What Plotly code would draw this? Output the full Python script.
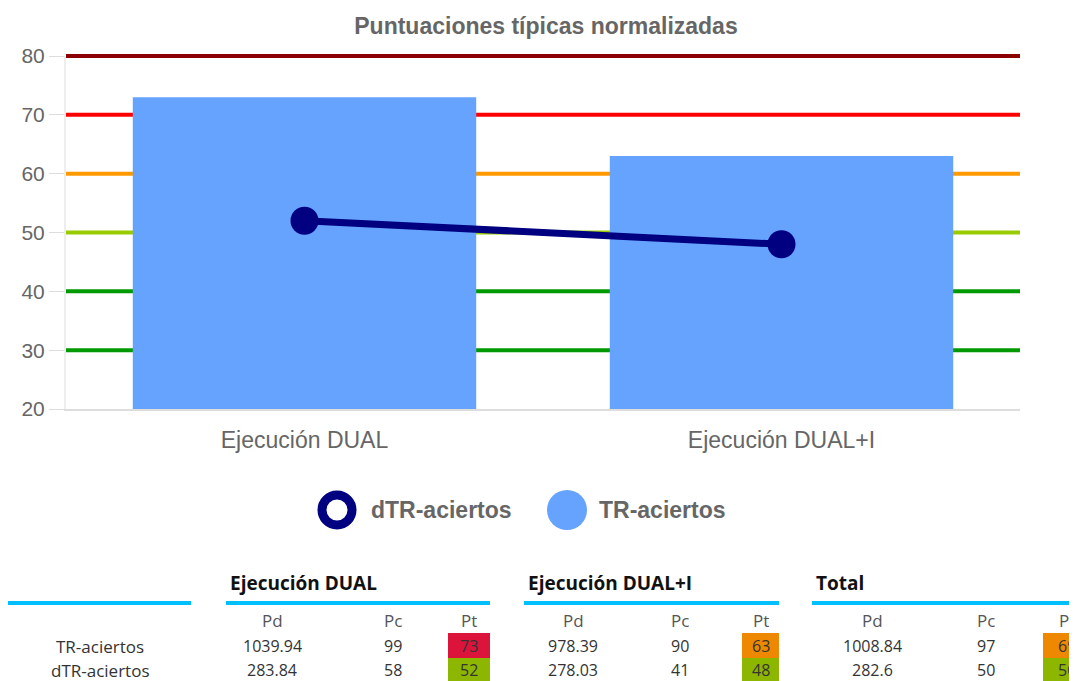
import plotly.graph_objects as go

# ---------------- data ----------------
categories = ["Ejecución DUAL", "Ejecución DUAL+I"]
tr_aciertos = [73, 63]
dtr_aciertos = [52, 48]
y_range = [20, 80]
y_ticks = [20, 30, 40, 50, 60, 70, 80]
threshold_values = [80, 70, 60, 50, 40, 30]
threshold_colors = ["#8B0000", "#FF0000", "#FF9900", "#99CC00", "#009900", "#009900"]

table_groups = ["Ejecución DUAL", "Ejecución DUAL+I", "Total"]
table_rows = ["TR-aciertos", "dTR-aciertos"]
table_subcols = ["Pd", "Pc", "Pt"]
pd_vals = [["1039.94", "978.39", "1008.84"], ["283.84", "278.03", "282.6"]]
pc_vals = [[99, 90, 97], [58, 41, 50]]
pt_vals = [[73, 63, 69], [52, 48, 50]]

# ---------------- layout helpers (screen pixel coords) ----------------
OFF = 8                      # page body margin
W, H = 1077 - OFF, 681 - OFF
L, R, T, B = 66, 1020, 56, 409


def px(x):
    return (x - L) / (R - L)


def py(y):
    return (B - y) / (B - T)


def yv(v):
    return (v - y_range[0]) / (y_range[1] - y_range[0])


def pt_color(v):
    if v >= 70:
        return "#DC143C"
    if v >= 60:
        return "#EE8800"
    return "#8DB600"


fig = go.Figure()
fig.add_trace(go.Bar(
    x=categories, y=[v - y_range[0] for v in tr_aciertos], base=y_range[0],
    marker=dict(color="#66A3FF", line=dict(width=0)),
    name="TR-aciertos", showlegend=False,
))
fig.add_trace(go.Scatter(
    x=categories, y=dtr_aciertos, mode="lines+markers",
    line=dict(color="#000080", width=7),
    marker=dict(color="#000080", size=28),
    name="dTR-aciertos", showlegend=False,
))

shapes = []
for v, c in zip(threshold_values, threshold_colors):
    shapes.append(dict(type="line", xref="paper", yref="paper", x0=0, x1=1, y0=yv(v), y1=yv(v),
                       line=dict(color=c, width=4), layer="below"))

annotations = []
font_axis = "Liberation Sans, Arial, sans-serif"
tfont = "Open Sans, sans-serif"

# legend (manual)
shapes.append(dict(type="circle", xref="paper", yref="paper",
                   x0=px(322), x1=px(352), y0=py(495), y1=py(525),
                   line=dict(color="#000080", width=9), fillcolor="white"))
annotations.append(dict(xref="paper", yref="paper", x=px(369), y=py(510), xanchor="left",
                        yanchor="middle", showarrow=False, text="<b>dTR-aciertos</b>",
                        font=dict(family=font_axis, size=23, color="#666666")))
shapes.append(dict(type="circle", xref="paper", yref="paper",
                   x0=px(547), x1=px(587), y0=py(490), y1=py(530),
                   line=dict(color="#66A3FF", width=0), fillcolor="#66A3FF"))
annotations.append(dict(xref="paper", yref="paper", x=px(597), y=py(510), xanchor="left",
                        yanchor="middle", showarrow=False, text="<b>TR-aciertos</b>",
                        font=dict(family=font_axis, size=23, color="#666666")))

# ---------------- table ----------------
line_y = 603
shapes.append(dict(type="line", xref="paper", yref="paper", x0=px(8), x1=px(191),
                   y0=py(line_y), y1=py(line_y), line=dict(color="#00BFFF", width=4)))
group_lines = [(226, 490), (524, 779), (812, 1090)]
col_pd = [272, 573, 872]
col_pc = [393, 680, 986]
pt_boxes = [(448, 490), (742, 779), (1043, 1090)]
row_y = [646, 670]
row_box = [(633, 658), (658, 686)]

for ri, name in enumerate(table_rows):
    annotations.append(dict(xref="paper", yref="paper", x=px(100), y=py(row_y[ri]),
                            xanchor="center", yanchor="middle", showarrow=False, text=name,
                            font=dict(family=tfont, size=17, color="#333333")))

for gi, g in enumerate(table_groups):
    x0, x1 = group_lines[gi]
    shapes.append(dict(type="line", xref="paper", yref="paper", x0=px(x0), x1=px(x1),
                       y0=py(line_y), y1=py(line_y), line=dict(color="#00BFFF", width=4)))
    annotations.append(dict(xref="paper", yref="paper", x=px(x0 + 2), y=py(583),
                            xanchor="left", yanchor="middle", showarrow=False, text="<b>" + g + "</b>",
                            font=dict(family=tfont, size=19, color="#111111")))
    bx0, bx1 = pt_boxes[gi]
    centers = [col_pd[gi], col_pc[gi], (bx0 + bx1) / 2]
    for ci, sc in enumerate(table_subcols):
        annotations.append(dict(xref="paper", yref="paper", x=px(centers[ci]), y=py(620),
                                xanchor="center", yanchor="middle", showarrow=False, text=sc,
                                font=dict(family=tfont, size=17, color="#555555")))
    for ri in range(len(table_rows)):
        yc = row_y[ri]
        annotations.append(dict(xref="paper", yref="paper", x=px(centers[0]), y=py(yc),
                                xanchor="center", yanchor="middle", showarrow=False,
                                text=str(pd_vals[ri][gi]),
                                font=dict(family=tfont, size=16, color="#333333")))
        annotations.append(dict(xref="paper", yref="paper", x=px(centers[1]), y=py(yc),
                                xanchor="center", yanchor="middle", showarrow=False,
                                text=str(pc_vals[ri][gi]),
                                font=dict(family=tfont, size=16, color="#333333")))
        by0, by1 = row_box[ri]
        shapes.append(dict(type="rect", xref="paper", yref="paper", x0=px(bx0), x1=px(bx1),
                           y0=py(by0), y1=py(by1), line=dict(width=0),
                           fillcolor=pt_color(pt_vals[ri][gi])))
        annotations.append(dict(xref="paper", yref="paper", x=px(centers[2]), y=py(yc),
                                xanchor="center", yanchor="middle", showarrow=False,
                                text=str(pt_vals[ri][gi]),
                                font=dict(family=tfont, size=16, color="#333333")))

fig.update_layout(
    width=W, height=H,
    margin=dict(l=L - OFF, r=W - (R - OFF), t=T - OFF, b=H - (B - OFF), autoexpand=False),
    paper_bgcolor="white", plot_bgcolor="white",
    title=dict(text="<b>Puntuaciones típicas normalizadas</b>", x=(546 - OFF) / W, xanchor="center",
               y=1 - (26 - OFF) / H, yanchor="middle", xref="container", yref="container",
               font=dict(family=font_axis, size=23, color="#666666")),
    bargap=0.28,
    showlegend=False,
    shapes=shapes,
    annotations=annotations,
    xaxis=dict(showgrid=False, showline=True, linecolor="#DDDDDD", linewidth=2,
               ticks="", tickfont=dict(family=font_axis, size=23, color="#666666"),
               ticklabelstandoff=9, zeroline=False),
    yaxis=dict(range=y_range, tickvals=y_ticks, showgrid=False, zeroline=False,
               showline=True, linecolor="#EEEEEE", linewidth=2,
               ticks="outside", ticklen=15, tickcolor="#DDDDDD", tickwidth=1,
               tickfont=dict(family=font_axis, size=21, color="#666666")),
)

fig.write_html("out.html")
